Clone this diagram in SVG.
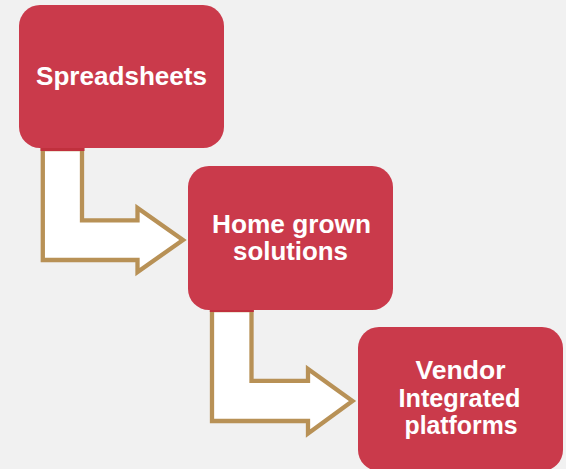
<svg xmlns="http://www.w3.org/2000/svg" width="566" height="469" viewBox="0 0 566 469">
<style>
.box{fill:#ca3a4b;}
.lbl{font-family:"Liberation Sans",Arial,sans-serif;font-weight:bold;font-size:25px;fill:#ffffff;text-anchor:middle;}
.arrow{fill:#ffffff;stroke:#b89156;stroke-width:4.3;stroke-linejoin:miter;}
.strip{fill:#c0303d;}
</style>
<rect width="566" height="469" fill="#f1f1f1"/>
<g id="connectors">
<path class="arrow" d="M42.8,149 V260 H137.5 V272 L183,240 L137.5,208 V220.3 H82 V149 Z"/>
<rect class="strip" x="40.5" y="146" width="44" height="5"/>
<path class="arrow" d="M212,310 V421 H308 V433.5 L352.5,401 L308,369 V380.8 H251.5 V310 Z"/>
<rect class="strip" x="209.8" y="307" width="44" height="5"/>
</g>
<g id="node-spreadsheets">
<rect class="box" x="19" y="5" width="205" height="143" rx="21"/>
<text class="lbl" x="121.5" y="85" textLength="171" lengthAdjust="spacingAndGlyphs">Spreadsheets</text>
</g>
<g id="node-homegrown">
<rect class="box" x="188" y="166" width="205" height="144" rx="21"/>
<text class="lbl" x="291.5" y="232.5" textLength="159" lengthAdjust="spacingAndGlyphs">Home grown</text>
<text class="lbl" x="290.5" y="259.5" textLength="115" lengthAdjust="spacingAndGlyphs">solutions</text>
</g>
<g id="node-vendor">
<rect class="box" x="358" y="327" width="205" height="144" rx="21"/>
<text class="lbl" x="460.5" y="378.5" textLength="90" lengthAdjust="spacingAndGlyphs">Vendor</text>
<text class="lbl" x="459.5" y="406.5" textLength="122" lengthAdjust="spacingAndGlyphs">Integrated</text>
<text class="lbl" x="461" y="434" textLength="113" lengthAdjust="spacingAndGlyphs">platforms</text>
</g>
</svg>
